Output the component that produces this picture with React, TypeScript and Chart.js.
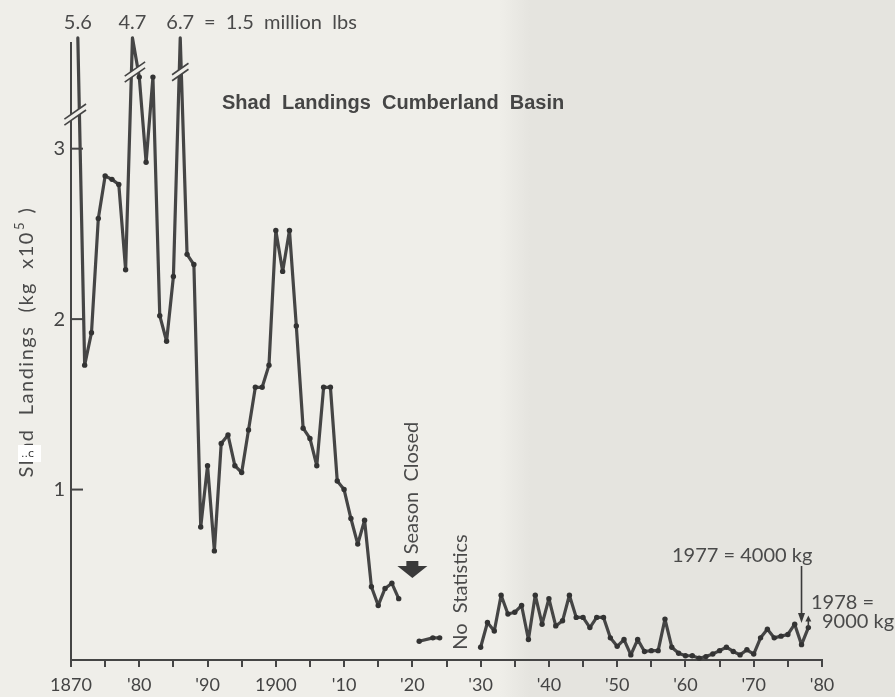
import React, { useEffect, useRef } from 'react';
import { Chart, registerables } from 'chart.js';

Chart.register(...registerables);

// ---------- data (kg x 10^5) ----------
const yearsA = [1871, 1872, 1873, 1874, 1875, 1876, 1877, 1878, 1879, 1880,
  1881, 1882, 1883, 1884, 1885, 1886, 1887, 1888, 1889, 1890,
  1891, 1892, 1893, 1894, 1895, 1896, 1897, 1898, 1899, 1900,
  1901, 1902, 1903, 1904, 1905, 1906, 1907, 1908, 1909, 1910,
  1911, 1912, 1913, 1914, 1915, 1916, 1917, 1918];
const landingsA = [5.6, 1.73, 1.92, 2.59, 2.84, 2.82, 2.79, 2.29, 4.7, 3.42,
  2.92, 3.42, 2.02, 1.87, 2.25, 6.7, 2.38, 2.32, 0.78, 1.14,
  0.64, 1.27, 1.32, 1.14, 1.10, 1.35, 1.60, 1.60, 1.73, 2.52,
  2.28, 2.52, 1.96, 1.36, 1.30, 1.14, 1.60, 1.60, 1.05, 1.00,
  0.83, 0.68, 0.82, 0.43, 0.32, 0.42, 0.45, 0.36];

const yearsB = [1921, 1923, 1924];
const landingsB = [0.11, 0.13, 0.13];

const yearsC = [1930, 1931, 1932, 1933, 1934, 1935, 1936, 1937, 1938, 1939,
  1940, 1941, 1942, 1943, 1944, 1945, 1946, 1947, 1948, 1949,
  1950, 1951, 1952, 1953, 1954, 1955, 1956, 1957, 1958, 1959,
  1960, 1961, 1962, 1963, 1964, 1965, 1966, 1967, 1968, 1969,
  1970, 1971, 1972, 1973, 1974, 1975, 1976, 1977, 1978];
const landingsC = [0.075, 0.22, 0.17, 0.38, 0.27, 0.28, 0.32, 0.12, 0.38, 0.21,
  0.36, 0.20, 0.23, 0.38, 0.25, 0.25, 0.19, 0.25, 0.25, 0.13,
  0.08, 0.12, 0.03, 0.12, 0.05, 0.055, 0.055, 0.24, 0.075, 0.04,
  0.025, 0.025, 0.01, 0.02, 0.035, 0.055, 0.075, 0.05, 0.03, 0.06,
  0.035, 0.13, 0.18, 0.13, 0.14, 0.15, 0.21, 0.09, 0.19];

const xTickYears = [1870, 1875, 1880, 1885, 1890, 1895, 1900, 1905, 1910, 1915, 1920, 1925,
  1930, 1935, 1940, 1945, 1950, 1955, 1960, 1965, 1970, 1975, 1980];
const decadeYears = [1870, 1880, 1890, 1900, 1910, 1920, 1930, 1940, 1950, 1960, 1970, 1980];
const decadeLabels = ['1870', "'80", "'90", '1900', "'10", "'20", "'30", "'40", "'50", "'60", "'70", "'80"];
const yTickValues = [1, 2, 3];

const Y_MAX = 3.62;      // top of the axis
const PEAK_PLOT = 3.65;  // where off-scale values are drawn
// axis break level for each off-scale peak
const breakYears = [1871, 1879, 1886];
const breakLevels = [3.2, 3.45, 3.45];

const LINE = '#454545';
const TEXT = '#4a4a4a';
const BG_L = '#efeee9';
const BG_R = '#e5e4df';

const plotted = (v: number) => (v > Y_MAX ? PEAK_PLOT : v);

const makeSet = (yrs: number[], vals: number[]) => ({
  data: yrs.map((yr, i) => ({ x: yr, y: plotted(vals[i]) })),
  borderColor: LINE,
  borderWidth: 3.2,
  borderJoinStyle: 'round' as const,
  borderCapStyle: 'round' as const,
  pointRadius: 2.7,
  pointBackgroundColor: '#333',
  pointBorderWidth: 0,
  tension: 0,
  clip: false as any,
});

const decor = {
  id: 'decor',
  beforeDraw(chart: any) {
    const { ctx, width, height } = chart;
    ctx.save();
    const g = ctx.createLinearGradient(500, 0, 530, 0);
    g.addColorStop(0, BG_L);
    g.addColorStop(1, BG_R);
    ctx.fillStyle = g;
    ctx.fillRect(0, 0, width, height);
    ctx.restore();
  },
  afterDraw(chart: any) {
    const { ctx } = chart;
    const xs = chart.scales.x;
    const ys = chart.scales.y;
    const px = (v: number) => xs.getPixelForValue(v);
    const py = (v: number) => ys.getPixelForValue(v);
    ctx.save();

    // inward y ticks
    ctx.strokeStyle = LINE;
    ctx.lineWidth = 2;
    yTickValues.forEach((v) => {
      ctx.beginPath();
      ctx.moveTo(xs.left, py(v));
      ctx.lineTo(xs.left + 12, py(v));
      ctx.stroke();
    });

    // axis breaks on off-scale peaks
    breakYears.forEach((yr, k) => {
      const i = yearsA.indexOf(yr);
      const level = py(breakLevels[k]);
      const top = { x: px(yr), y: py(plotted(landingsA[i])) };
      const cross = (o: { x: number; y: number }) => {
        const t = (level - top.y) / (o.y - top.y);
        return top.x + t * (o.x - top.x);
      };
      const xsCross: number[] = [];
      if (i > 0) xsCross.push(cross({ x: px(yearsA[i - 1]), y: py(plotted(landingsA[i - 1])) }));
      else xsCross.push(xs.left);
      xsCross.push(cross({ x: px(yearsA[i + 1]), y: py(plotted(landingsA[i + 1])) }));
      const cx = (xsCross[0] + xsCross[1]) / 2;
      const half = Math.abs(xsCross[1] - xsCross[0]) / 2 + 9;
      const dx = Math.cos((35 * Math.PI) / 180) * half;
      const dy = -Math.sin((35 * Math.PI) / 180) * half;
      const gap = 3;
      ctx.fillStyle = BG_L;
      ctx.beginPath();
      ctx.moveTo(cx - dx, level - dy - gap);
      ctx.lineTo(cx + dx, level + dy - gap);
      ctx.lineTo(cx + dx, level + dy + gap);
      ctx.lineTo(cx - dx, level - dy + gap);
      ctx.closePath();
      ctx.fill();
      ctx.strokeStyle = '#444';
      ctx.lineWidth = 1.6;
      [-gap, gap].forEach((o) => {
        ctx.beginPath();
        ctx.moveTo(cx - dx, level - dy + o);
        ctx.lineTo(cx + dx, level + dy + o);
        ctx.stroke();
      });
    });

    // peak value labels
    ctx.fillStyle = TEXT;
    ctx.font = '20px Lato';
    ctx.textAlign = 'center';
    ctx.textBaseline = 'middle';
    breakYears.forEach((yr) => {
      const i = yearsA.indexOf(yr);
      ctx.fillText(landingsA[i].toFixed(1), px(yr), 23);
    });
    ctx.textAlign = 'left';
    ctx.fillText('=  1.5  million  lbs', 204, 23);

    // title
    ctx.font = 'bold 20px "Liberation Sans"';
    ctx.fillStyle = '#454545';
    ctx.textAlign = 'left';
    ctx.fillText('Shad  Landings  Cumberland  Basin', 222, 103);

    // y axis title (rotated, with superscript)
    ctx.save();
    ctx.translate(26, 343);
    ctx.rotate(-Math.PI / 2);
    ctx.fillStyle = TEXT;
    ctx.textAlign = 'left';
    ctx.textBaseline = 'alphabetic';
    (ctx as any).letterSpacing = '1.5px';
    const p1 = 'Shad  Landings  (kg  x10';
    const p3 = ' )';
    ctx.font = '20px Lato';
    const w1 = ctx.measureText(p1).width;
    const w3 = ctx.measureText(p3).width;
    ctx.font = '13px Lato';
    const w2 = ctx.measureText('5').width;
    let sx = -(w1 + w2 + w3) / 2;
    ctx.font = '20px Lato';
    ctx.fillText(p1, sx, 7);
    sx += w1;
    ctx.font = '13px Lato';
    ctx.fillText('5', sx + 1, -2);
    sx += w2 + 2;
    ctx.font = '20px Lato';
    ctx.fillText(p3, sx, 7);
    ctx.restore();

    // scan artefact box
    ctx.fillStyle = '#ffffff';
    ctx.fillRect(18, 445, 23, 17);
    ctx.fillStyle = '#333';
    ctx.font = '11px "DejaVu Sans"';
    ctx.textAlign = 'left';
    ctx.textBaseline = 'middle';
    ctx.fillText('..c', 21, 454);

    // Season closed
    const sxp = px(1920);
    ctx.save();
    ctx.translate(sxp - 1, 488);
    ctx.rotate(-Math.PI / 2);
    ctx.font = '20px Lato';
    ctx.fillStyle = TEXT;
    ctx.textAlign = 'center';
    ctx.textBaseline = 'middle';
    ctx.fillText('Season  Closed', 0, 0);
    ctx.restore();
    ctx.fillStyle = '#3a3a3a';
    ctx.fillRect(sxp - 6, 561, 12, 6);
    ctx.beginPath();
    ctx.moveTo(sxp - 15, 566);
    ctx.lineTo(sxp + 15, 566);
    ctx.lineTo(sxp, 578);
    ctx.closePath();
    ctx.fill();

    // No statistics
    ctx.save();
    ctx.translate(px(1927), 592);
    ctx.rotate(-Math.PI / 2);
    ctx.font = '20px Lato';
    ctx.fillStyle = TEXT;
    ctx.textAlign = 'center';
    ctx.textBaseline = 'middle';
    ctx.fillText('No  Statistics', 0, 0);
    ctx.restore();

    // 1977 / 1978 notes
    ctx.font = '20px Lato';
    ctx.fillStyle = TEXT;
    ctx.textAlign = 'left';
    ctx.textBaseline = 'middle';
    ctx.fillText('1977 = 4000 kg', 672, 556);
    ctx.fillText('1978 =', 811, 603);
    ctx.fillText('9000 kg', 822, 622);

    const a77 = px(1977);
    ctx.strokeStyle = '#3a3a3a';
    ctx.lineWidth = 1.6;
    ctx.beginPath();
    ctx.moveTo(a77, 566);
    ctx.lineTo(a77, 615);
    ctx.stroke();
    ctx.fillStyle = '#3a3a3a';
    ctx.beginPath();
    ctx.moveTo(a77 - 3.5, 613);
    ctx.lineTo(a77 + 3.5, 613);
    ctx.lineTo(a77, 623);
    ctx.closePath();
    ctx.fill();

    const i78 = yearsC.indexOf(1978);
    const a78 = px(1978);
    const p78 = py(landingsC[i78]);
    ctx.beginPath();
    ctx.moveTo(a78, p78);
    ctx.lineTo(a78, p78 - 7);
    ctx.stroke();
    ctx.beginPath();
    ctx.moveTo(a78 - 3, p78 - 6);
    ctx.lineTo(a78 + 3, p78 - 6);
    ctx.lineTo(a78, p78 - 12);
    ctx.closePath();
    ctx.fill();

    ctx.restore();
  },
};

export default function App() {
  const ref = useRef<HTMLCanvasElement | null>(null);

  useEffect(() => {
    document.body.style.margin = '0';
    const canvas = ref.current;
    if (!canvas) return;
    const chart = new Chart(canvas, {
      type: 'line',
      data: {
        datasets: [makeSet(yearsA, landingsA), makeSet(yearsB, landingsB), makeSet(yearsC, landingsC)] as any,
      },
      options: {
        animation: false,
        responsive: false,
        layout: { padding: { top: 43, right: 73, left: 0, bottom: 0 } },
        plugins: { legend: { display: false }, tooltip: { enabled: false } },
        scales: {
          x: {
            type: 'linear',
            min: 1870,
            max: 1980,
            afterFit: (s: any) => { s.height = 37; },
            afterBuildTicks: (s: any) => { s.ticks = xTickYears.map((v) => ({ value: v })); },
            ticks: {
              autoSkip: false,
              maxRotation: 0,
              padding: 7,
              color: '#444',
              font: { family: 'Lato', size: 18 },
              callback: (v: any) => {
                const k = decadeYears.indexOf(Number(v));
                return k >= 0 ? decadeLabels[k] : '';
              },
            },
            grid: { display: true, drawOnChartArea: false, drawTicks: true, tickLength: 7, color: LINE, lineWidth: 2 },
            border: { display: true, color: LINE, width: 2 },
          },
          y: {
            type: 'linear',
            min: 0,
            max: Y_MAX,
            afterFit: (s: any) => { s.width = 71; },
            afterBuildTicks: (s: any) => { s.ticks = yTickValues.map((v) => ({ value: v })); },
            ticks: {
              padding: 6,
              color: '#444',
              font: { family: 'Lato', size: 20 },
            },
            grid: { display: false, drawTicks: false },
            border: { display: true, color: LINE, width: 2 },
          },
        },
      },
      plugins: [decor],
    });
    return () => chart.destroy();
  }, []);

  return (
    <div style={{ width: 895, height: 697 }}>
      <canvas ref={ref} width={895} height={697} style={{ display: 'block', width: 895, height: 697 }} />
    </div>
  );
}
